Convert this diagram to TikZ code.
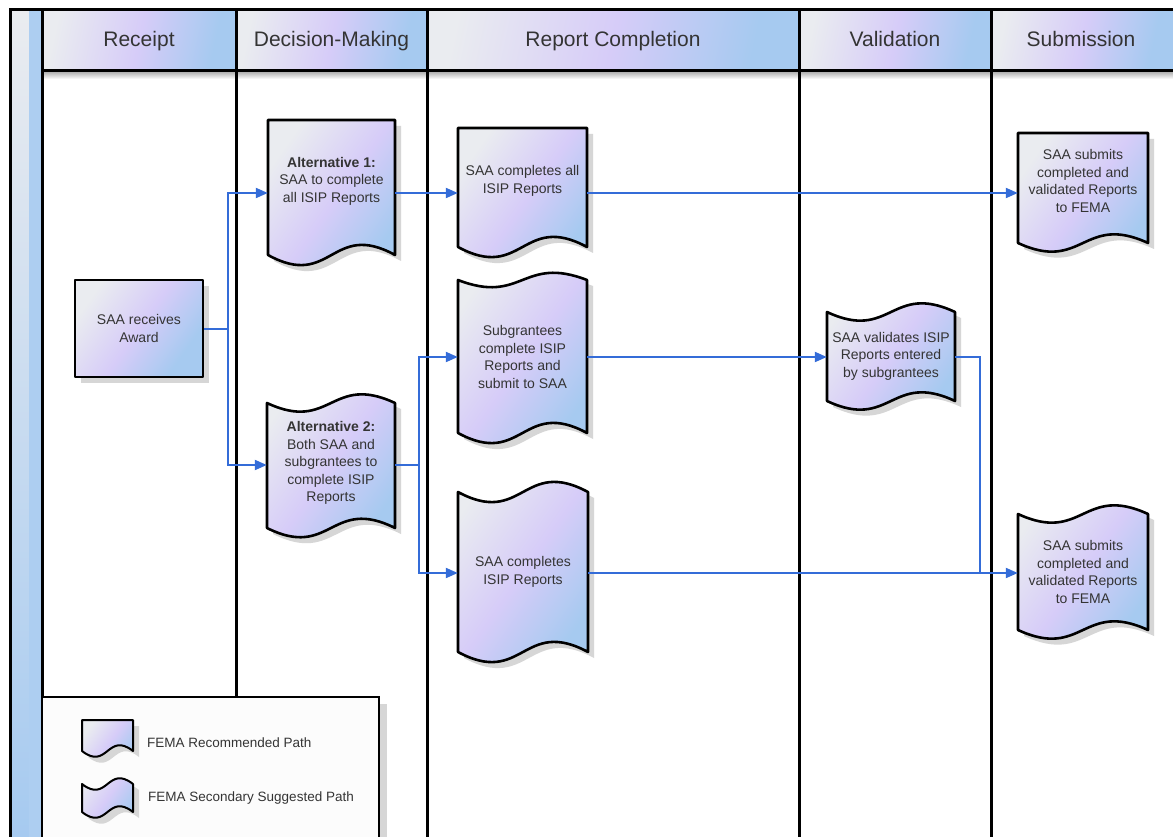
\documentclass[tikz,border=0pt]{standalone}
\usepackage{fontspec}
\setmainfont{Liberation Sans}
\usetikzlibrary{arrows.meta,calc}
\definecolor{connblue}{RGB}{52,108,216}
\definecolor{fillL}{RGB}{234,236,240}
\definecolor{fillM}{RGB}{214,204,248}
\definecolor{fillR}{RGB}{166,202,240}
\definecolor{txt}{RGB}{52,52,52}
\definecolor{shadowc}{RGB}{214,214,214}
\pgfdeclarehorizontalshading{docshade}{100bp}{color(0bp)=(fillL); color(25bp)=(fillL); color(50bp)=(fillM); color(72bp)=(fillR); color(100bp)=(fillR)}
\tikzset{
  frameline/.style={line width=3pt, draw=black},
  shapefill/.style={shading=docshade, shading angle=-35, draw=black, line width=2.6pt, line join=round},
  hdrfill/.style={shading=docshade, shading angle=-12},
  shadowfill/.style={fill=shadowc, draw=none},
  lbl/.style={text=txt, font=\fontsize{14}{17.5}\selectfont, align=center, inner sep=0pt},
  hdr/.style={text=txt, font=\fontsize{21}{24}\selectfont, inner sep=0pt, anchor=base},
  legtxt/.style={text=txt, font=\fontsize{13.5}{16}\selectfont, inner sep=0pt, anchor=west},
  port/.style={inner sep=0pt, minimum height=0pt, draw=none},
  link/.style={draw=connblue, line width=2pt},
  arr/.style={link, -{Triangle[length=12pt,width=10pt]}},
}
% document shape: x1 x2 top bottom d style
\newcommand\DocShape[6]{%
  \fill[shadowfill, shift={(6,6)}] (#1,#3) -- (#2,#3) -- (#2,#4) .. controls ({(#1+#2)/2},{#4-#5}) and ({(#1+#2)/2},{#4+#5}) .. (#1,#4) -- cycle;
  \path[#6] (#1,#3) -- (#2,#3) -- (#2,#4) .. controls ({(#1+#2)/2},{#4-#5}) and ({(#1+#2)/2},{#4+#5}) .. (#1,#4) -- cycle;}
% tape shape: x1 x2 top dtop bottom dbottom style
\newcommand\TapeShape[7]{%
  \fill[shadowfill, shift={(6,6)}] (#1,#3) .. controls ({(#1+#2)/2},{#3+#4}) and ({(#1+#2)/2},{#3-#4}) .. (#2,#3) -- (#2,#5) .. controls ({(#1+#2)/2},{#5-#6}) and ({(#1+#2)/2},{#5+#6}) .. (#1,#5) -- cycle;
  \path[#7] (#1,#3) .. controls ({(#1+#2)/2},{#3+#4}) and ({(#1+#2)/2},{#3-#4}) .. (#2,#3) -- (#2,#5) .. controls ({(#1+#2)/2},{#5-#6}) and ({(#1+#2)/2},{#5+#6}) .. (#1,#5) -- cycle;}
\begin{document}
\begin{tikzpicture}[x=1pt, y=-1pt]
\useasboundingbox (0,0) rectangle (1173,837);
\clip (0,0) rectangle (1173,837);
\fill[white] (0,0) rectangle (1173,837);
% left strip
\shade[top color=fillL, bottom color=fillR] (10,10) rectangle (42,837);
\fill[fillR!92!white] (29,10) rectangle (42,837);
% headers
\shade[hdrfill] (42,10) rectangle (236,71);
\shade[hdrfill] (236,10) rectangle (427,71);
\shade[hdrfill] (427,10) rectangle (799,71);
\shade[hdrfill] (799,10) rectangle (991,71);
\shade[hdrfill] (991,10) rectangle (1173,71);
\shade[top color=black!30, bottom color=white] (42,72) rectangle (1173,79);
\node[hdr] (hReceipt) at (139,47) {Receipt};
\node[hdr] (hDecision) at (331.5,47) {Decision-Making};
\node[hdr] (hReport) at (613,47) {Report Completion};
\node[hdr] (hValid) at (895,47) {Validation};
\node[hdr] (hSubmit) at (1081,47) {Submission};
% frame lines
\draw[frameline] (10,840) -- (10,10) -- (1176,10);
\draw[frameline] (42,10) -- (42,840);
\draw[frameline] (42,71) -- (1176,71);
\draw[frameline] (236,10) -- (236,697);
\draw[frameline] (427,10) -- (427,840);
\draw[frameline] (799,10) -- (799,840);
\draw[frameline] (991,10) -- (991,840);
% legend
\fill[shadowc] (380,704) rectangle (387,840);
\draw[line width=2.2pt, fill=black!1] (42,697) rectangle (379,850);
\DocShape{82}{133}{720}{751}{20}{shapefill, line width=2pt}
\TapeShape{82}{133}{784}{20}{812}{20}{shapefill, line width=2pt}
\node[legtxt] (leg1) at (147,743) {FEMA Recommended Path};
\node[legtxt] (leg2) at (148,798) {FEMA Secondary Suggested Path};
% award box
\fill[shadowfill] (81,286) rectangle (209,383);
\node[shapefill, lbl, minimum width=128pt, minimum height=97pt, inner sep=0pt] (award) at (139,328.5) {SAA receives\\Award};
% shapes
\DocShape{268}{395}{120}{255}{35}{shapefill}
\TapeShape{267}{395}{403}{30}{528}{32}{shapefill}
\DocShape{458}{587}{128}{247}{35}{shapefill}
\TapeShape{458}{587}{280}{25}{433}{35}{shapefill}
\TapeShape{458}{588}{492}{35}{652}{35}{shapefill}
\TapeShape{827}{955}{312}{30}{401}{30}{shapefill}
\DocShape{1018}{1148}{133}{243}{30}{shapefill}
\TapeShape{1018}{1148}{514}{30}{630}{30}{shapefill}
% ports
\node[port, minimum width=127pt] (alt1) at (331.5,193) {};
\node[port, minimum width=128pt] (alt2) at (331,465) {};
\node[port, minimum width=129pt] (comp1) at (522.5,193) {};
\node[port, minimum width=129pt] (sub) at (522.5,357) {};
\node[port, minimum width=130pt] (comp2) at (523,573) {};
\node[port, minimum width=128pt] (val) at (891,357) {};
\node[port, minimum width=130pt] (subA) at (1083,193) {};
\node[port, minimum width=130pt] (subB) at (1083,573) {};
% texts
\node[lbl] (alt1t) at (331.5,181) {\textbf{Alternative 1:}\\SAA to complete\\all ISIP Reports};
\node[lbl] (alt2t) at (331,463) {\textbf{Alternative 2:}\\Both SAA and\\subgrantees to\\complete ISIP\\Reports};
\node[lbl] (comp1t) at (522.5,181) {SAA completes all\\ISIP Reports};
\node[lbl] (subt) at (522.5,357) {Subgrantees\\complete ISIP\\Reports and\\submit to SAA};
\node[lbl] (comp2t) at (523,572) {SAA completes\\ISIP Reports};
\node[lbl] (valt) at (891,356) {SAA validates ISIP\\Reports entered\\by subgrantees};
\node[lbl] (subAt) at (1083,181) {SAA submits\\completed and\\validated Reports\\to FEMA};
\node[lbl] (subBt) at (1083,572) {SAA submits\\completed and\\validated Reports\\to FEMA};
% connectors
\coordinate (j1) at (228,328.5);
\coordinate (j2) at (419,465);
\coordinate (j3) at (980,573);
\draw[link] (award.east) -- (j1);
\draw[arr] (j1) |- (alt1.west);
\draw[arr] (j1) |- (alt2.west);
\draw[arr] (alt1.east) -- (comp1.west);
\draw[link] (alt2.east) -- (j2);
\draw[arr] (j2) |- (sub.west);
\draw[arr] (j2) |- (comp2.west);
\draw[arr] (comp1.east) -- (subA.west);
\draw[arr] (sub.east) -- (val.west);
\draw[arr] (comp2.east) -- (subB.west);
\draw[link] (val.east) -| (j3);
\end{tikzpicture}
\end{document}
